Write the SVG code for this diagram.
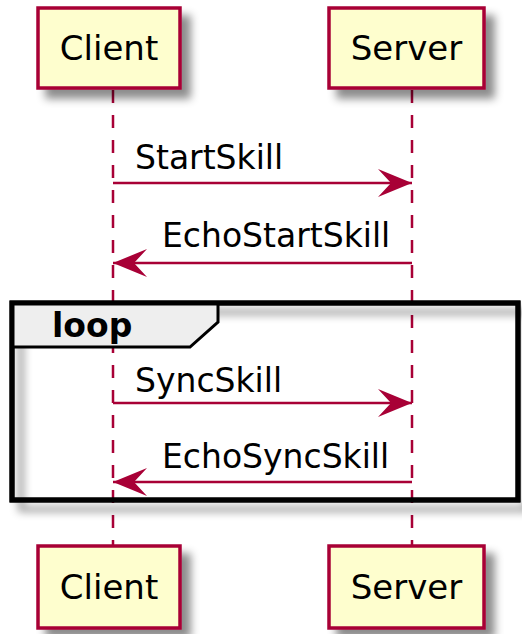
<svg xmlns="http://www.w3.org/2000/svg" width="522" height="634" viewBox="0 0 522 634">
<defs>
<filter id="sh" x="-20%" y="-20%" width="150%" height="150%">
<feGaussianBlur in="SourceAlpha" stdDeviation="4"/>
<feColorMatrix type="matrix" values="0 0 0 0 0  0 0 0 0 0  0 0 0 0 0  0 0 0 0.45 0"/>
<feOffset dx="9" dy="9" result="s"/>
<feMerge><feMergeNode in="s"/><feMergeNode in="SourceGraphic"/></feMerge>
</filter>
<marker id="ah" viewBox="0 0 34 28" refX="34" refY="14" markerWidth="34" markerHeight="28" markerUnits="userSpaceOnUse" orient="auto-start-reverse">
<path d="M0,0 L34,14 L0,28 L13,14 Z" fill="#A80036"/>
</marker>
</defs>
<style>
.box{fill:#FEFECE;stroke:#A80036;stroke-width:3.5}
.life{stroke:#A80036;stroke-width:2.5;stroke-dasharray:13,12;fill:none}
.msg{stroke:#A80036;stroke-width:2.5;fill:none}
.pt{font-family:"DejaVu Sans",sans-serif;font-size:34px;fill:#000000}
.mt{font-family:"DejaVu Sans",sans-serif;font-size:33px;fill:#000000}
.lt{font-family:"DejaVu Sans",sans-serif;font-size:33px;font-weight:bold;fill:#000000}
</style>
<rect width="522" height="634" fill="#FFFFFF"/>
<g id="lifelines">
<line class="life" x1="113" y1="90" x2="113" y2="545"/>
<line class="life" x1="412" y1="90" x2="412" y2="545"/>
</g>
<g id="loop">
<rect x="12" y="303" width="506" height="197" fill="none" stroke="#000000" stroke-width="5" filter="url(#sh)"/>
<path d="M12,303 L218,303 L218,322 L190,347 L12,347 Z" fill="#EEEEEE" stroke="#000000" stroke-width="3"/>
<rect x="12" y="303" width="506" height="197" fill="none" stroke="#000000" stroke-width="5"/>
<text class="lt" x="52" y="337">loop</text>
</g>
<g id="connectors">
<line class="msg" x1="113" y1="183" x2="412" y2="183" marker-end="url(#ah)"/>
<text class="mt" x="135" y="169">StartSkill</text>
<line class="msg" x1="412" y1="263" x2="113" y2="263" marker-end="url(#ah)"/>
<text class="mt" x="162" y="247">EchoStartSkill</text>
<line class="msg" x1="113" y1="403" x2="412" y2="403" marker-end="url(#ah)"/>
<text class="mt" x="135" y="392">SyncSkill</text>
<line class="msg" x1="412" y1="482" x2="113" y2="482" marker-end="url(#ah)"/>
<text class="mt" x="162" y="468">EchoSyncSkill</text>
</g>
<g id="client-top">
<rect class="box" x="38" y="8" width="142" height="80" filter="url(#sh)"/>
<text class="pt" x="109" y="60" text-anchor="middle">Client</text>
</g>
<g id="server-top">
<rect class="box" x="329" y="8" width="155" height="80" filter="url(#sh)"/>
<text class="pt" x="406.5" y="60" text-anchor="middle">Server</text>
</g>
<g id="client-bottom">
<rect class="box" x="38" y="546" width="142" height="82" filter="url(#sh)"/>
<text class="pt" x="109" y="599" text-anchor="middle">Client</text>
</g>
<g id="server-bottom">
<rect class="box" x="329" y="546" width="155" height="82" filter="url(#sh)"/>
<text class="pt" x="406.5" y="599" text-anchor="middle">Server</text>
</g>
</svg>
